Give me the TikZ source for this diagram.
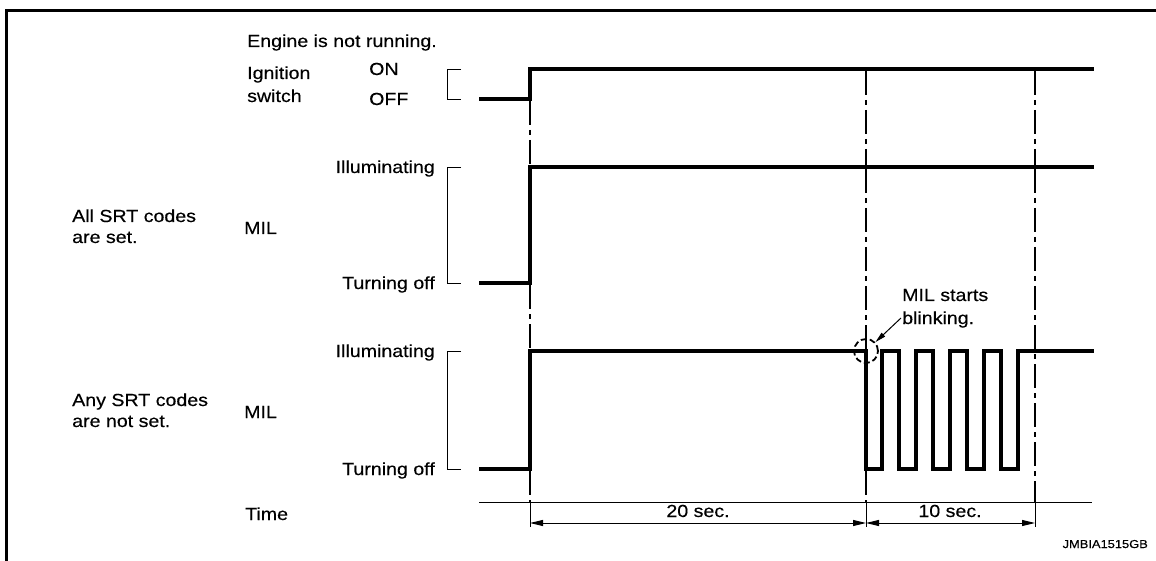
\documentclass[tikz,border=0pt]{standalone}
\usepackage{fontspec}
\setmainfont{Liberation Sans}[FakeStretch=1.12,FakeBold=0.35]
\usetikzlibrary{arrows.meta}
\begin{document}
\begin{tikzpicture}[x=1pt,y=-1pt,
  sig/.style={line width=3.2pt,line join=miter,line cap=butt},
  brk/.style={line width=0.9pt},
  frame/.style={line width=3pt},
  ddash/.style={line width=1.2pt,dash pattern=on 24pt off 5pt on 5pt off 5pt},
  axis/.style={line width=1pt},
  dimarrow/.style={line width=1pt,{Triangle[length=13pt,width=6pt]}-{Triangle[length=13pt,width=6pt]}},
  lbl/.style={inner sep=0pt,font=\fontsize{17.5}{20}\selectfont},
  small/.style={inner sep=0pt,font=\fontsize{11.5}{13}\selectfont},
  ringstyle/.style={circle,draw,line width=1.8pt,dash pattern=on 6pt off 3pt,minimum size=24pt,inner sep=0pt}
]
\useasboundingbox (0,0) rectangle (1156,561);
% frame
\draw[frame] (6,561) -- (6,11) -- (1156,11);

% labels
\node[lbl,anchor=base west] (eng) at (247,47) {Engine is not running.};
\node[lbl,anchor=base west] (ign1) at (247,79) {Ignition};
\node[lbl,anchor=base west] (ign2) at (247,102) {switch};
\node[lbl,anchor=base west] (on) at (369,75) {ON};
\node[lbl,anchor=base west] (off) at (369,105) {OFF};

\node[lbl,anchor=base west] (all1) at (72,222) {All SRT codes};
\node[lbl,anchor=base west] (all2) at (72,243) {are set.};
\node[lbl,anchor=base west] (mil1) at (244,234) {MIL};
\node[lbl,anchor=base east] (ill1) at (435,173) {Illuminating};
\node[lbl,anchor=base east] (tof1) at (435,289) {Turning off};

\node[lbl,anchor=base west] (any1) at (72,406) {Any SRT codes};
\node[lbl,anchor=base west] (any2) at (72,427) {are not set.};
\node[lbl,anchor=base west] (mil2) at (244,418) {MIL};
\node[lbl,anchor=base east] (ill2) at (435,357) {Illuminating};
\node[lbl,anchor=base east] (tof2) at (435,475) {Turning off};

\node[lbl,anchor=base west] (time) at (245,520) {Time};
\node[lbl,anchor=base] (t20) at (698,517) {20 sec.};
\node[lbl,anchor=base] (t10) at (950,517) {10 sec.};

\node[lbl,anchor=base west] (ms1) at (902,301) {MIL starts};
\node[lbl,anchor=base west] (ms2) at (902,324) {blinking.};

\node[small,anchor=base east] (code) at (1148,548) {JMBIA1515GB};

% brackets
\draw[brk] (461,69) -- (447,69) -- (447,99) -- (461,99);
\draw[brk] (461,167) -- (447,167) -- (447,283) -- (461,283);
\draw[brk] (461,351) -- (447,351) -- (447,469) -- (461,469);

% dash-dot guide lines
\draw[ddash] (530,101) -- (530,165);
\draw[ddash] (530,285) -- (530,349);
\draw[ddash] (530,471) -- (530,502);
\draw[ddash] (866,71) -- (866,165);
\draw[ddash] (866,169) -- (866,349);
\draw[ddash] (866,471) -- (866,502);
\draw[ddash] (1035,71) -- (1035,165);
\draw[ddash] (1035,169) -- (1035,502);

% time axis and ticks
\coordinate (ax0) at (479,502);
\coordinate (ax1) at (1092,502);
\draw[axis] (ax0) -- (ax1);
\coordinate (k1a) at (530,502); \coordinate (k1b) at (530,527);
\coordinate (k2a) at (866,502); \coordinate (k2b) at (866,527);
\coordinate (k3a) at (1035,502); \coordinate (k3b) at (1035,527);
\draw[axis] (k1a) -- (k1b);
\draw[axis] (k2a) -- (k2b);
\draw[axis] (k3a) -- (k3b);
\coordinate (d1) at (530,523);
\coordinate (d2) at (866,523);
\coordinate (d3) at (1035,523);
\draw[dimarrow] (d1) -- (d2);
\draw[dimarrow] (d2) -- (d3);

% signals
\draw[sig] (479,99) -- (530,99) -- (530,69) -- (1094,69);
\draw[sig] (479,283) -- (530,283) -- (530,167) -- (1094,167);
\draw[sig] (479,469) -- (530,469) -- (530,351) -- (866,351)
  -- (866,469) -- (882,469) -- (882,351) -- (899,351)
  -- (899,469) -- (916,469) -- (916,351) -- (933,351)
  -- (933,469) -- (950,469) -- (950,351) -- (967,351)
  -- (967,469) -- (984,469) -- (984,351) -- (1001,351)
  -- (1001,469) -- (1018,469) -- (1018,351) -- (1094,351);

% blink marker
\node[ringstyle] (ring) at (866,351) {};
\coordinate (lead) at (901,318);
\draw[line width=1pt,-{Triangle[length=11pt,width=5pt]}] (lead) -- (ring);
\end{tikzpicture}
\end{document}
